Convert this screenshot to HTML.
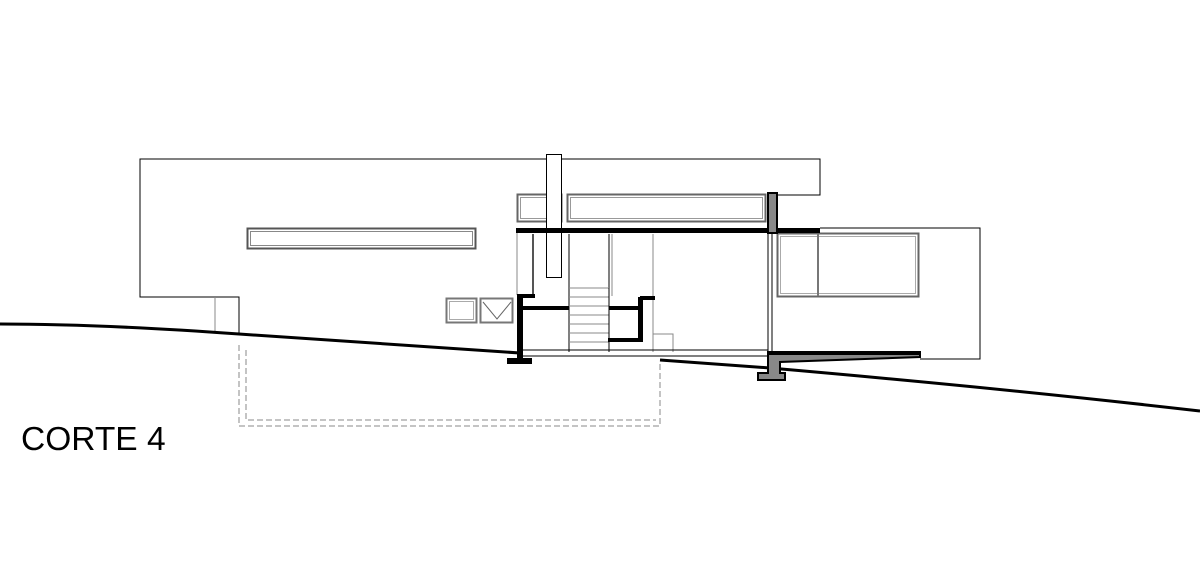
<!DOCTYPE html>
<html><head><style>html,body{margin:0;padding:0;background:#fff}svg{display:block}</style></head>
<body>
<svg width="1200" height="573" viewBox="0 0 1200 573" xmlns="http://www.w3.org/2000/svg">
<rect width="1200" height="573" fill="#fff"/>
<g fill="none" stroke="#000" stroke-width="1">
<polyline points="239,334 239,297 140,297 140,159 820,159 820,195 775,195"/>
<line x1="215" y1="297" x2="215" y2="332" stroke="#888"/>
<rect x="247.5" y="228.5" width="228" height="20" stroke="#555" stroke-width="2"/>
<rect x="250.5" y="231.5" width="222" height="14" stroke="#888"/>
<rect x="517.5" y="194.5" width="44" height="27" stroke="#666" stroke-width="2"/>
<rect x="520.5" y="197.5" width="38" height="21" stroke="#999"/>
<rect x="567.5" y="194.5" width="198" height="27" stroke="#666" stroke-width="2"/>
<rect x="570.5" y="197.5" width="192" height="21" stroke="#999"/>
<polyline points="820,228 980,228 980,359 920,359"/>
<rect x="777.5" y="233.5" width="141" height="63" stroke="#666" stroke-width="2"/>
<rect x="780.5" y="236.5" width="135" height="57" stroke="#aaa"/>
<line x1="818" y1="234" x2="818" y2="296" stroke="#777" stroke-width="2"/>
<line x1="517" y1="233" x2="517" y2="295" stroke="#888"/>
<line x1="533" y1="234" x2="533" y2="294" stroke="#555" stroke-width="2"/>
<line x1="569" y1="234" x2="569" y2="352"/>
<line x1="609" y1="234" x2="609" y2="296"/>
<line x1="612" y1="234" x2="612" y2="296" stroke="#888"/>
<line x1="653" y1="234" x2="653" y2="352" stroke="#888"/>
<polyline points="653,334 673,334 673,352" stroke="#888"/>
<line x1="768" y1="234" x2="768" y2="352" stroke="#555" stroke-width="1.5"/>
<line x1="772" y1="234" x2="772" y2="352" stroke="#555" stroke-width="1.5"/>
<g stroke="#888">
<line x1="569" y1="288" x2="609" y2="288"/><line x1="569" y1="297" x2="609" y2="297"/>
<line x1="569" y1="306" x2="609" y2="306"/><line x1="569" y1="315" x2="609" y2="315"/>
<line x1="569" y1="324" x2="609" y2="324"/><line x1="569" y1="333" x2="609" y2="333"/>
<line x1="569" y1="342" x2="609" y2="342"/>
</g>
<line x1="609" y1="288" x2="609" y2="352"/>
<rect x="446.5" y="298.5" width="30" height="24" stroke="#777" stroke-width="2"/>
<rect x="449.5" y="301.5" width="24" height="18" stroke="#aaa"/>
<rect x="480.5" y="298.5" width="32" height="24" stroke="#777" stroke-width="2"/>
<polyline points="483,302 497,319 511,302" stroke="#666"/>
<line x1="523" y1="350" x2="768" y2="350"/>
<line x1="523" y1="356" x2="768" y2="356"/>
<g stroke="#888" stroke-dasharray="6,3">
<polyline points="239,345 239,426 660,426 660,362"/>
<polyline points="246,350 246,420 656,420" />
</g>
</g>
<rect x="546.5" y="154.5" width="15" height="123" fill="#fff" stroke="#000"/>
<path d="M0,324 Q100,324 239,334 L520,353" fill="none" stroke="#000" stroke-width="3"/>
<path d="M660,360 L770,368 Q1000,388 1200,411" fill="none" stroke="#000" stroke-width="3"/>
<rect x="516" y="228" width="304" height="5" fill="#000"/>
<rect x="768" y="193" width="9" height="40" fill="#888" stroke="#000" stroke-width="2"/>
<rect x="517" y="295" width="6" height="63" fill="#000"/>
<rect x="517" y="294" width="18" height="4" fill="#000"/>
<rect x="507" y="358" width="25" height="6" fill="#000"/>
<rect x="523" y="306" width="46" height="4" fill="#000"/>
<rect x="609" y="306" width="31" height="4" fill="#000"/>
<rect x="638" y="297" width="5" height="45" fill="#000"/>
<rect x="640" y="296" width="15" height="4" fill="#000"/>
<rect x="608" y="338" width="35" height="4" fill="#000"/>
<path d="M768,352 L920,352 L920,357 L780,362 L780,373 L785,373 L785,380 L758,380 L758,373 L768,373 Z" fill="#888" stroke="#000" stroke-width="2"/>
<rect x="768" y="351" width="152" height="4" fill="#000"/>
<text x="21" y="450" font-family="Liberation Sans, sans-serif" font-size="33.5" fill="#000">CORTE 4</text>
</svg>
</body></html>
